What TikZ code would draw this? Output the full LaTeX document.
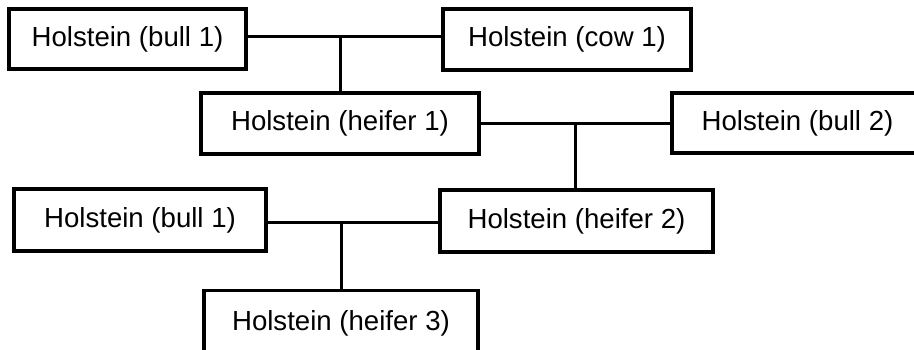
\documentclass[tikz,border=0pt]{standalone}
\usepackage{fontspec}
\setmainfont{Liberation Sans}
\usepackage{tikz}
\tikzset{animal/.style={draw=black,line width=1.6pt,fill=white,rectangle,inner sep=0pt,
  font=\fontsize{13.8}{16}\selectfont}}
\begin{document}
\begin{tikzpicture}[line cap=butt,line join=miter,x=0.5pt,y=-0.5pt]
\useasboundingbox (0,0) rectangle (914,349);
\clip (0,0) rectangle (914,349);
% first generation
\node[animal,minimum width=118.5pt,minimum height=30pt] (bullA) at (127.5,39) {Holstein (bull 1)};
\node[animal,minimum width=124pt,minimum height=30.5pt] (cowA) at (567,39.5) {Holstein (cow 1)};
\node[animal,minimum width=139pt,minimum height=30.5pt] (heiferA) at (340,123.5) {Holstein (heifer 1)};
\coordinate (jA) at (340,36);
\draw[line width=1.5pt] (bullA.east |- jA) -- (cowA.west |- jA);
\draw[line width=1.5pt] (jA) -- (heiferA.north);
% second generation
\node[animal,minimum width=125.5pt,minimum height=30pt] (bullB) at (797.5,123) {Holstein (bull 2)};
\node[animal,minimum width=136.5pt,minimum height=31pt] (heiferB) at (576.5,221) {Holstein (heifer 2)};
\coordinate (jB) at (575,123);
\draw[line width=1.5pt] (heiferA.east |- jB) -- (bullB.west |- jB);
\draw[line width=1.5pt] (jB) -- (heiferB.north -| jB);
% third generation
\node[animal,minimum width=126pt,minimum height=31pt] (bullC) at (140,220) {Holstein (bull 1)};
\node[animal,minimum width=137pt,minimum height=33pt,anchor=north] (heiferC) at (341,288.5) {Holstein (heifer 3)};
\coordinate (jC) at (341,222);
\draw[line width=1.5pt] (bullC.east |- jC) -- (heiferB.west |- jC);
\draw[line width=1.5pt] (jC) -- (heiferC.north);
\end{tikzpicture}
\end{document}
